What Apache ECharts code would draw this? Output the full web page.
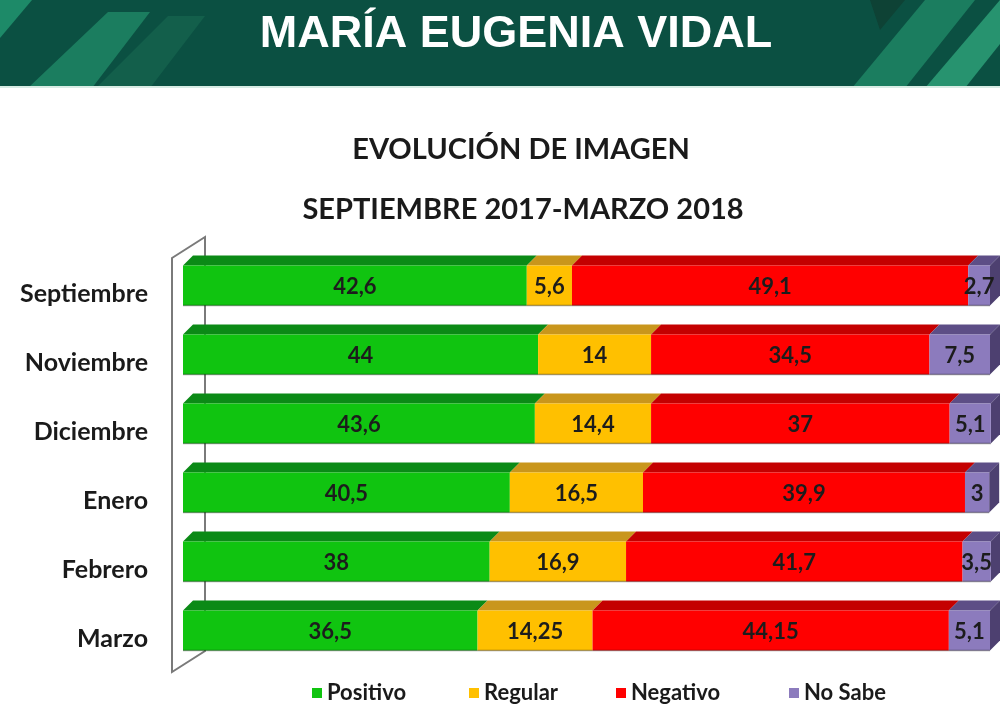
<!DOCTYPE html>
<html>
<head>
<meta charset="utf-8">
<title>María Eugenia Vidal - Evolución de imagen</title>
<script src="https://cdn.jsdelivr.net/npm/echarts@6/dist/echarts.min.js"></script>
<style>
  html, body { margin: 0; padding: 0; background: #ffffff; }
  #chart { width: 1000px; height: 722px; }
</style>
</head>
<body>
<div id="chart"></div>
<script>
// meses (eje vertical)
var meses = ["Septiembre", "Noviembre", "Diciembre", "Enero", "Febrero", "Marzo"];

// valores por categoría de imagen
var positivo = [42.6, 44, 43.6, 40.5, 38, 36.5];
var regular = [5.6, 14, 14.4, 16.5, 16.9, 14.25];
var negativo = [49.1, 34.5, 37, 39.9, 41.7, 44.15];
var noSabe = [2.7, 7.5, 5.1, 3, 3.5, 5.1];

var nombres = ["Positivo", "Regular", "Negativo", "No Sabe"];
var valores = [positivo, regular, negativo, noSabe];

// colores: frente, cara superior, lateral
var colorFrente = ["#10c410", "#ffc000", "#ff0000", "#8c7bbd"];
var colorArriba = ["#0b8a16", "#c9961c", "#c40000", "#5d4e86"];
var colorLado = ["#087010", "#a67a10", "#9a0000", "#4d4070"];

// posición horizontal de cada item de la leyenda
var leyendaX = [312, 469, 616, 789];

var fuente = "Lato, 'Open Sans', sans-serif";

var chart = echarts.init(document.getElementById("chart"));

//arma los tramos apilados de cada serie
function tramos(idx) {
    var out = [];
    for (var i = 0; i < meses.length; i++) {
        var ini = 0;
        for (var k = 0; k < idx; k++) {
            ini += valores[k][i];
        }
        out.push([i, ini, ini + valores[idx][i], valores[idx][i]]);
    }
    return out;
}

function formato(v) {
    return String(v).replace(".", ",");
}

//dibuja una barra con efecto 3D
function makeRender(idx) {
    return function(params, api) {
        var cat = api.value(0);
        var p0 = api.coord([api.value(1), cat]);
        var p1 = api.coord([api.value(2), cat]);
        var banda = api.size([0, 1])[1];
        var h = banda * 0.58;
        var yTop = p0[1] - h / 2;
        var yBot = p0[1] + h / 2;
        var dx = 10, dy = 10;
        var hijos = [];
        hijos.push({
            type: "polygon",
            shape: { points: [[p0[0], yTop], [p1[0], yTop], [p1[0] + dx, yTop - dy], [p0[0] + dx, yTop - dy]] },
            style: { fill: colorArriba[idx] }
        });
        if (idx === valores.length - 1) {
            hijos.push({
                type: "polygon",
                shape: { points: [[p1[0], yTop], [p1[0] + dx, yTop - dy], [p1[0] + dx, yBot - dy], [p1[0], yBot]] },
                style: { fill: colorLado[idx] }
            });
        }
        hijos.push({
            type: "rect",
            shape: { x: p0[0], y: yTop, width: p1[0] - p0[0], height: h },
            style: { fill: colorFrente[idx] }
        });
        hijos.push({
            type: "line",
            shape: { x1: p0[0], y1: yBot, x2: p1[0], y2: yBot },
            style: { stroke: "rgba(0,0,0,0.35)", lineWidth: 1.5 }
        });
        hijos.push({
            type: "text",
            x: (p0[0] + p1[0]) / 2,
            y: p0[1] + 1,
            style: {
                text: formato(api.value(3)),
                fill: "#1c1c1c",
                font: "bold 22px " + fuente,
                align: "center",
                verticalAlign: "middle"
            }
        });
        return { type: "group", children: hijos };
    };
}

var series = [];
var leyendas = [];
for (var s = 0; s < nombres.length; s++) {
    series.push({
        type: "custom",
        name: nombres[s],
        renderItem: makeRender(s),
        itemStyle: { color: colorFrente[s] },
        encode: { x: [1, 2], y: 0 },
        data: tramos(s),
        z: 3
    });
    leyendas.push({
        data: [nombres[s]],
        left: leyendaX[s],
        top: 682,
        padding: 0,
        itemWidth: 10,
        itemHeight: 10,
        icon: "rect",
        textStyle: { fontFamily: fuente, fontWeight: "bold", fontSize: 22, color: "#1a1a1a" }
    });
}

var option = {
    backgroundColor: "#ffffff",
    animation: false,
    title: [
        { text: "EVOLUCIÓN DE IMAGEN", left: 516, top: 130, textAlign: "center",
          textStyle: { fontFamily: fuente, fontWeight: "bold", fontSize: 29, color: "#1a1a1a" } },
        { text: "SEPTIEMBRE 2017-MARZO 2018", left: 518, top: 190, textAlign: "center",
          textStyle: { fontFamily: fuente, fontWeight: "bold", fontSize: 29, color: "#1a1a1a" } }
    ],
    legend: leyendas,
    grid: { left: 183, right: 10, top: 251, bottom: 57 },
    xAxis: { type: "value", min: 0, max: 100, show: false },
    yAxis: {
        type: "category",
        data: meses,
        inverse: true,
        axisLine: { show: false },
        axisTick: { show: false },
        axisLabel: {
            margin: 35,
            formatter: "{m|{value}}",
            rich: {
                m: { padding: [16, 0, 0, 0], fontFamily: fuente, fontWeight: "bold", fontSize: 25, color: "#1a1a1a" }
            }
        }
    },
    graphic: [
        // encabezado
        { type: "rect", shape: { x: 0, y: 0, width: 1000, height: 88 }, style: { fill: "#0b5042" }, z: 0 },
        { type: "polygon", shape: { points: [[0, 0], [32, 0], [0, 38]] }, style: { fill: "#1d8a68" }, z: 0 },
        { type: "polygon", shape: { points: [[28, 88], [92, 88], [150, 12], [108, 12]] }, style: { fill: "#1b7d5f" }, z: 0 },
        { type: "polygon", shape: { points: [[96, 88], [150, 88], [205, 16], [168, 16]] }, style: { fill: "#135f4b" }, z: 0 },
        { type: "polygon", shape: { points: [[852, 88], [905, 88], [975, 0], [925, 0]] }, style: { fill: "#1b7d5f" }, z: 0 },
        { type: "polygon", shape: { points: [[925, 88], [965, 88], [1000, 44], [1000, 0]] }, style: { fill: "#27936f" }, z: 0 },
        { type: "polygon", shape: { points: [[870, 0], [905, 0], [880, 30]] }, style: { fill: "#0e4235" }, z: 0 },
        { type: "rect", shape: { x: 0, y: 86, width: 1000, height: 2 }, style: { fill: "#d8ece4" }, z: 0 },
        { type: "text", x: 516, y: 35, z: 1,
          style: { text: "MARÍA EUGENIA VIDAL", fill: "#ffffff", font: "bold 45px 'Liberation Sans', Arial, sans-serif",
                   align: "center", verticalAlign: "middle" } },
        // pared lateral
        { type: "polygon", shape: { points: [[172, 258], [205, 237], [205, 651], [172, 672]] },
          style: { fill: "#ffffff", stroke: "#7a7a7a", lineWidth: 2 }, z: 0 }
    ],
    series: series
};

chart.setOption(option);
</script>
</body>
</html>
